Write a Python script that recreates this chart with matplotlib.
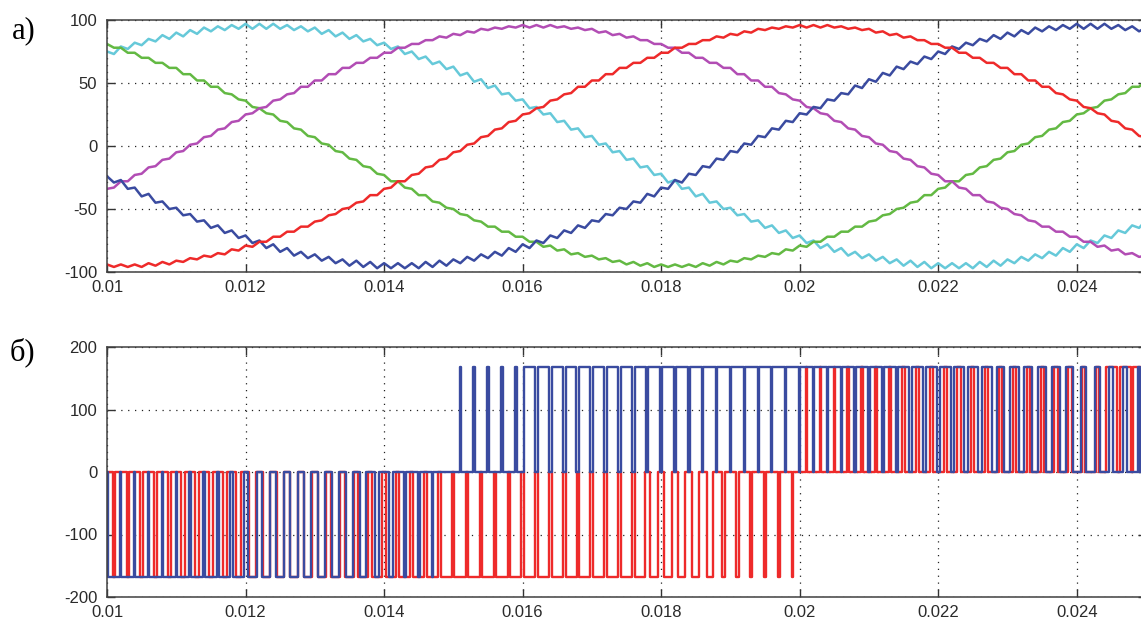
import numpy as np
import matplotlib
matplotlib.use("Agg")
import matplotlib.pyplot as plt

plt.rcParams["axes.unicode_minus"] = False

# --- a) phase currents, sampled every 0.1 ms from 0.010 s to 0.025 s ---
T_START = 0.010
T_STEP = 0.0001

I_RED = [
    -94, -96, -94, -96, -94, -96, -93, -95, -92, -94,
    -91, -92, -89, -90, -87, -88, -85, -86, -82, -83,
    -79, -80, -76, -76, -72, -72, -68, -68, -64, -64,
    -60, -59, -55, -54, -50, -49, -45, -44, -39, -39,
    -34, -33, -28, -28, -23, -22, -17, -16, -11, -10,
    -5, -4, 1, 2, 7, 8, 13, 14, 19, 20,
    25, 26, 30, 31, 36, 37, 41, 42, 47, 47,
    52, 52, 57, 57, 62, 62, 66, 66, 70, 70,
    74, 74, 78, 78, 81, 81, 84, 84, 87, 86,
    89, 88, 91, 90, 93, 92, 94, 93, 95, 94,
    96, 94, 96, 94, 96, 94, 95, 93, 94, 92,
    93, 90, 91, 88, 89, 86, 87, 84, 84, 81,
    81, 78, 78, 74, 74, 70, 70, 66, 66, 62,
    62, 57, 57, 52, 52, 47, 47, 42, 41, 37,
    36, 31, 30, 26, 25, 20, 19, 14, 13, 8,
    7,
]

I_MAGENTA = [
    -34, -33, -28, -28, -23, -22, -17, -16, -11, -10,
    -5, -4, 1, 2, 7, 8, 13, 14, 19, 20,
    25, 26, 30, 31, 36, 37, 41, 42, 47, 47,
    52, 52, 57, 57, 62, 62, 66, 66, 70, 70,
    74, 74, 78, 78, 81, 81, 84, 84, 87, 86,
    89, 88, 91, 90, 93, 92, 94, 93, 95, 94,
    96, 94, 96, 94, 96, 94, 95, 93, 94, 92,
    93, 90, 91, 88, 89, 86, 87, 84, 84, 81,
    81, 78, 78, 74, 74, 70, 70, 66, 66, 62,
    62, 57, 57, 52, 52, 47, 47, 42, 41, 37,
    36, 31, 30, 26, 25, 20, 19, 14, 13, 8,
    7, 2, 1, -4, -5, -10, -11, -16, -17, -22,
    -23, -28, -28, -33, -34, -39, -39, -44, -45, -49,
    -50, -54, -55, -59, -60, -64, -64, -68, -68, -72,
    -72, -76, -76, -80, -79, -83, -82, -86, -85, -88,
    -87,
]

I_CYAN = [
    75, 73, 79, 77, 82, 80, 85, 83, 88, 85,
    90, 87, 92, 89, 94, 91, 95, 92, 96, 93,
    97, 93, 97, 93, 97, 93, 96, 92, 95, 91,
    94, 89, 92, 87, 90, 85, 88, 83, 85, 80,
    82, 77, 79, 73, 75, 69, 71, 65, 67, 61,
    63, 56, 58, 51, 53, 46, 48, 41, 42, 36,
    37, 30, 31, 25, 26, 19, 20, 13, 14, 7,
    8, 1, 2, -5, -4, -11, -10, -17, -16, -23,
    -22, -29, -27, -34, -33, -40, -38, -45, -44, -50,
    -49, -55, -54, -60, -59, -65, -63, -69, -67, -73,
    -71, -77, -75, -81, -78, -84, -81, -87, -84, -89,
    -86, -91, -88, -93, -90, -95, -91, -96, -92, -97,
    -93, -97, -93, -97, -93, -97, -92, -96, -91, -95,
    -90, -93, -88, -91, -86, -89, -84, -87, -81, -84,
    -78, -81, -75, -77, -71, -73, -67, -69, -63, -65,
    -59,
]

I_BLUE = [
    -24, -29, -27, -34, -33, -40, -38, -45, -44, -50,
    -49, -55, -54, -60, -59, -65, -63, -69, -67, -73,
    -71, -77, -75, -81, -78, -84, -81, -87, -84, -89,
    -86, -91, -88, -93, -90, -95, -91, -96, -92, -97,
    -93, -97, -93, -97, -93, -97, -92, -96, -91, -95,
    -90, -93, -88, -91, -86, -89, -84, -87, -81, -84,
    -78, -81, -75, -77, -71, -73, -67, -69, -63, -65,
    -59, -60, -54, -55, -49, -50, -44, -45, -38, -40,
    -33, -34, -27, -29, -22, -23, -16, -17, -10, -11,
    -4, -5, 2, 1, 8, 7, 14, 13, 20, 19,
    26, 25, 31, 30, 37, 36, 42, 41, 48, 46,
    53, 51, 58, 56, 63, 61, 67, 65, 71, 69,
    75, 73, 79, 77, 82, 80, 85, 83, 88, 85,
    90, 87, 92, 89, 94, 91, 95, 92, 96, 93,
    97, 93, 97, 93, 97, 93, 96, 92, 95, 91,
    94,
]

I_GREEN = [
    81, 78, 78, 74, 74, 70, 70, 66, 66, 62,
    62, 57, 57, 52, 52, 47, 47, 42, 41, 37,
    36, 31, 30, 26, 25, 20, 19, 14, 13, 8,
    7, 2, 1, -4, -5, -10, -11, -16, -17, -22,
    -23, -28, -28, -33, -34, -39, -39, -44, -45, -49,
    -50, -54, -55, -59, -60, -64, -64, -68, -68, -72,
    -72, -76, -76, -80, -79, -83, -82, -86, -85, -88,
    -87, -90, -89, -92, -91, -94, -92, -95, -93, -96,
    -94, -96, -94, -96, -94, -96, -93, -95, -92, -94,
    -91, -92, -89, -90, -87, -88, -85, -86, -82, -83,
    -79, -80, -76, -76, -72, -72, -68, -68, -64, -64,
    -60, -59, -55, -54, -50, -49, -45, -44, -39, -39,
    -34, -33, -28, -28, -23, -22, -17, -16, -11, -10,
    -5, -4, 1, 2, 7, 8, 13, 14, 19, 20,
    25, 26, 30, 31, 36, 37, 41, 42, 47, 47,
    52,
]

# --- б) switching voltages: one pulse per 0.2 ms carrier period ---
PWM_START = 0.010
PWM_PERIOD = 0.0002

RED_DUTY = [
    0.12, 0.15, 0.18, 0.20, 0.22, 0.25, 0.27, 0.30, 0.32, 0.40,
    0.45, 0.48, 0.52, 0.55, 0.58, 0.60, 0.62, 0.66, 0.72, 0.74,
    0.76, 0.78, 0.80, 0.80, 0.82, 0.84, 0.82, 0.84, 0.85, 0.84,
    0.82, 0.84, 0.82, 0.80, 0.80, 0.78, 0.76, 0.74, 0.72, 0.55,
    0.52, 0.50, 0.48, 0.45, 0.20, 0.18, 0.16, 0.14, 0.12, 0.10,
    0.08, 0.10, 0.10, 0.12, 0.12, 0.14, 0.15, 0.16, 0.18, 0.20,
    0.22, 0.22, 0.24, 0.25, 0.26, 0.20, 0.22, 0.22, 0.24, 0.25,
    0.26, 0.28, 0.80, 0.82, 0.84,
]
RED_LEVEL = [-168] * 50 + [168] * 25

BLUE_DUTY = [
    0.90, 0.92, 0.90, 0.88, 0.90, 0.88, 0.86, 0.85, 0.80, 0.78,
    0.62, 0.60, 0.55, 0.55, 0.52, 0.50, 0.50, 0.48, 0.45, 0.30,
    0.28, 0.15, 0.12, 0.08, 0.00, 0.08, 0.10, 0.12, 0.12, 0.14,
    0.75, 0.76, 0.78, 0.78, 0.80, 0.80, 0.82, 0.82, 0.84, 0.86,
    0.88, 0.88, 0.90, 0.90, 0.92, 0.92, 0.93, 0.93, 0.94, 0.94,
    0.93, 0.92, 0.90, 0.90, 0.88, 0.88, 0.86, 0.85, 0.84, 0.82,
    0.80, 0.78, 0.75, 0.72, 0.45, 0.60, 0.58, 0.55, 0.52, 0.50,
    0.40, 0.35, 0.30, 0.25, 0.20,
]
BLUE_LEVEL = [-168] * 25 + [168] * 50

X_TICKS = [0.010, 0.012, 0.014, 0.016, 0.018, 0.020, 0.022, 0.024]
X_TICK_LABELS = ["0.01", "0.012", "0.014", "0.016", "0.018", "0.02", "0.022", "0.024"]
Y_TICKS_A = [-100, -50, 0, 50, 100]
Y_TICKS_B = [-200, -100, 0, 100, 200]

C_RED = "#ee2a2a"
C_MAGENTA = "#b24db4"
C_CYAN = "#66c9d9"
C_BLUE = "#3a4ba0"
C_GREEN = "#63b943"


def pwm_trace(duty, level):
    """Centre-aligned pulses, one per carrier period, returned as step vertices."""
    xs, ys = [PWM_START], [0]
    for p, (d, lv) in enumerate(zip(duty, level)):
        start = PWM_START + p * PWM_PERIOD
        if d <= 0:
            continue
        xs += [start + PWM_PERIOD * (1 - d) / 2, start + PWM_PERIOD * (1 + d) / 2]
        ys += [lv, 0]
    xs.append(PWM_START + len(duty) * PWM_PERIOD)
    ys.append(0)
    return xs, ys


def style_axes(ax, yticks):
    ax.set_xlim(0.010, 0.025)
    ax.set_ylim(yticks[0], yticks[-1])
    ax.set_xticks(X_TICKS)
    ax.set_xticklabels(X_TICK_LABELS)
    ax.set_yticks(yticks)
    ax.set_yticklabels([str(v) for v in yticks])
    ax.grid(True, linestyle=(0, (1, 4.5)), color="#222222", linewidth=0.9)
    ax.tick_params(direction="in", length=6, width=1.0, top=True, right=True,
                   colors="#333333", labelsize=12)
    ax.tick_params(axis="x", pad=6)
    ax.tick_params(axis="y", pad=7)
    for lbl in ax.get_xticklabels() + ax.get_yticklabels():
        lbl.set_fontfamily("Liberation Sans")
        lbl.set_color("#2a2a2a")
    for spine in ax.spines.values():
        spine.set_edgecolor("#404040")
        spine.set_linewidth(1.1)


W, H = 1141, 619
fig = plt.figure(figsize=(W / 100, H / 100), dpi=100)
fig.patch.set_facecolor("white")

ax_a = fig.add_axes([107 / W, (H - 272) / H, 1039 / W, 252 / H])
ax_b = fig.add_axes([107 / W, (H - 597) / H, 1039 / W, 250 / H])

t = T_START + T_STEP * np.arange(len(I_RED))
for series, color in [(I_CYAN, C_CYAN), (I_GREEN, C_GREEN), (I_MAGENTA, C_MAGENTA),
                      (I_BLUE, C_BLUE), (I_RED, C_RED)]:
    ax_a.plot(t, series, color=color, linewidth=1.8)
style_axes(ax_a, Y_TICKS_A)

for duty, level, color in [(RED_DUTY, RED_LEVEL, C_RED), (BLUE_DUTY, BLUE_LEVEL, C_BLUE)]:
    xs, ys = pwm_trace(duty, level)
    ax_b.plot(xs, ys, drawstyle="steps-post", color=color, linewidth=1.7)
style_axes(ax_b, Y_TICKS_B)

fig.text(12 / W, (H - 38) / H, "а)", fontsize=22, family="Liberation Serif",
         va="baseline", ha="left")
fig.text(10 / W, (H - 360) / H, "б)", fontsize=22, family="Liberation Serif",
         va="baseline", ha="left")

fig.savefig("out.png", dpi=100, facecolor="white")
